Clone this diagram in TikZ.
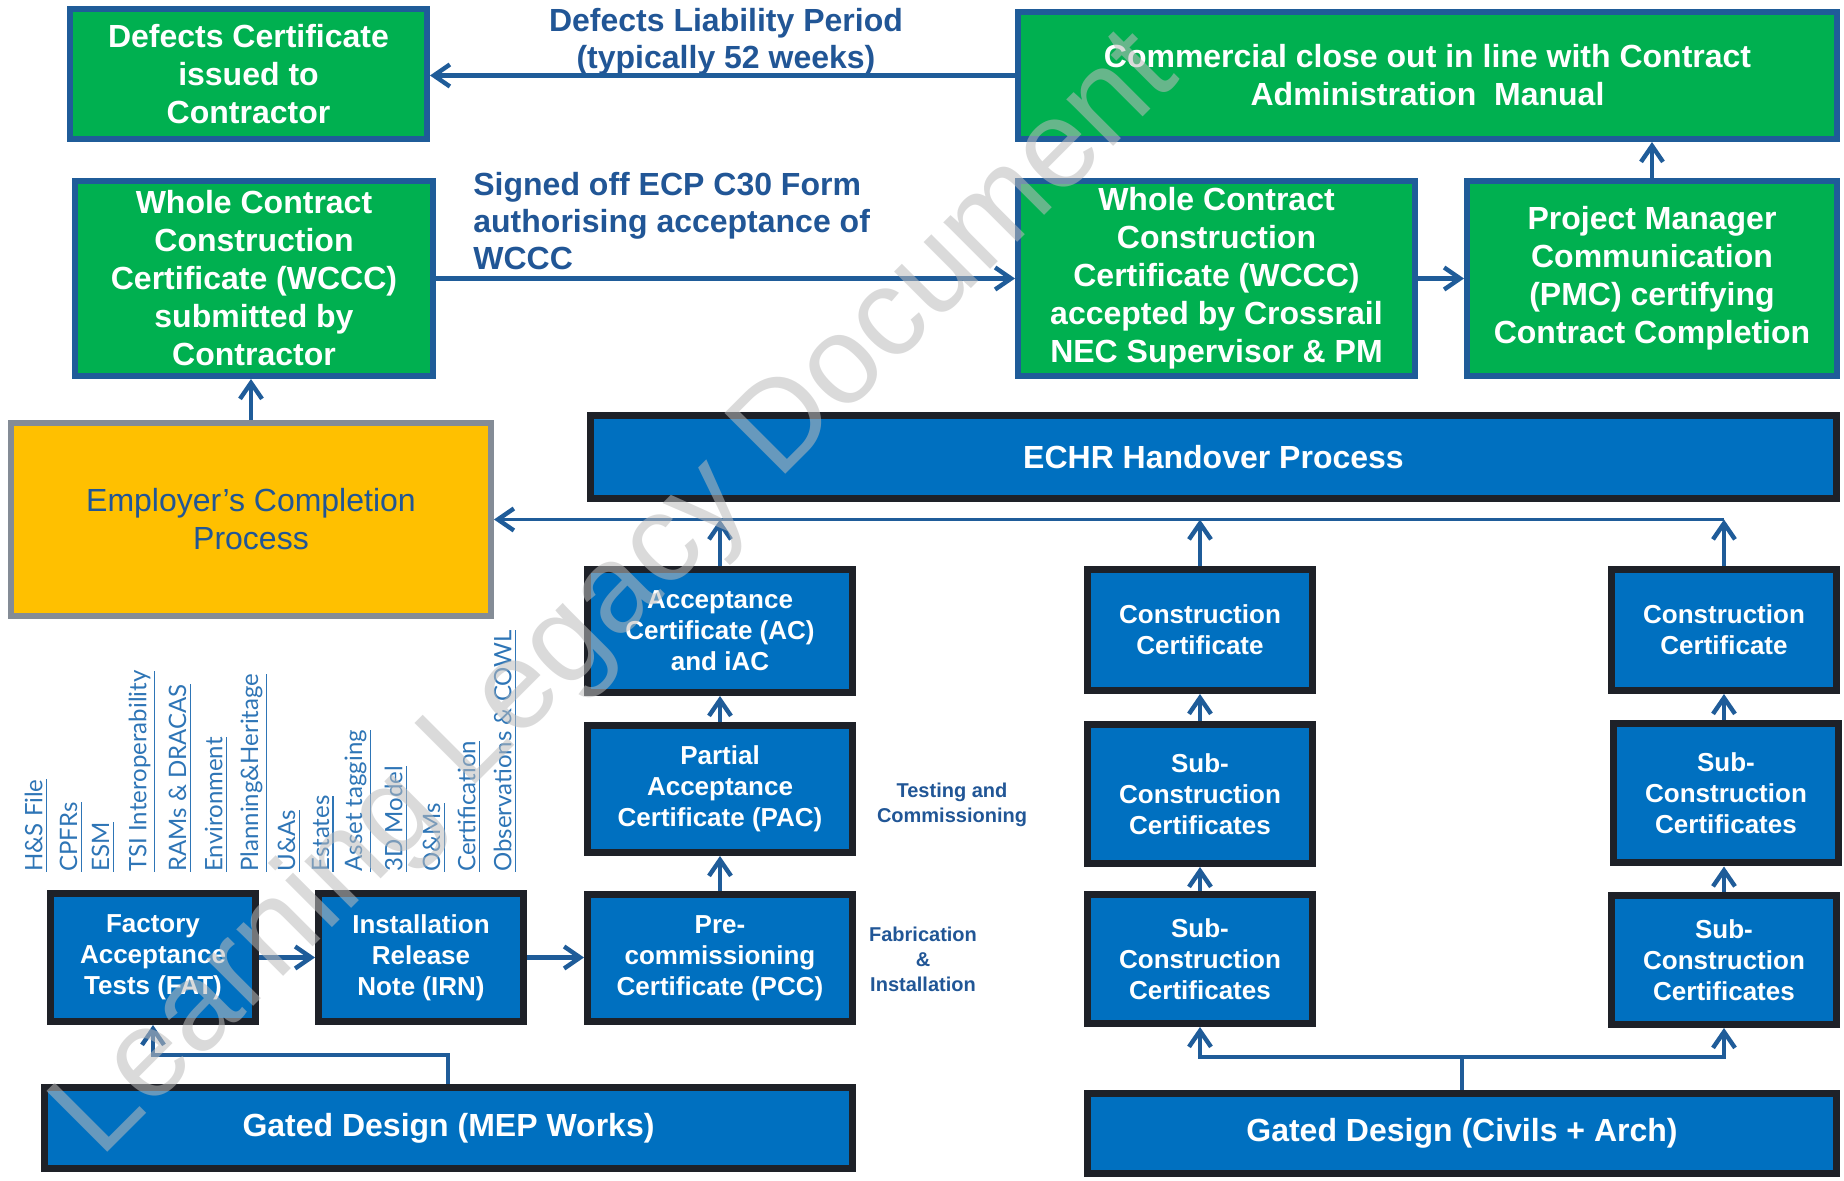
\documentclass[tikz,border=0pt]{standalone}
\usepackage{fontspec}
\setmainfont{Liberation Sans}
\newfontfamily\latofont{Lato}
\usetikzlibrary{arrows.meta}
\definecolor{gfill}{RGB}{0,176,80}
\definecolor{lblue}{RGB}{31,92,153}
\definecolor{tblue}{RGB}{33,86,150}
\definecolor{bfill}{RGB}{0,112,192}
\definecolor{bline}{RGB}{30,33,40}
\definecolor{yfill}{RGB}{255,192,0}
\definecolor{ygray}{RGB}{132,140,150}
\definecolor{linkblue}{RGB}{46,117,182}
\definecolor{wmark}{RGB}{188,188,188}
\newcommand\myul[1]{\leavevmode\vtop{\hbox{#1}\kern1.6pt\hrule height 0.8pt}}
\begin{document}
\begin{tikzpicture}[x=0.5pt,y=-0.5pt,
 gbox/.style={draw=lblue,line width=3pt,fill=gfill,text=white,font=\bfseries\fontsize{16}{19}\selectfont,align=center,inner sep=0pt},
 bbox/.style={draw=bline,line width=3.5pt,fill=bfill,text=white,font=\bfseries\fontsize{13}{15.5}\selectfont,align=center,inner sep=0pt},
 bigtext/.style={font=\bfseries\fontsize{16}{19}\selectfont},
 conn/.style={draw=lblue,line width=2.2pt,-{Straight Barb[length=8pt,width=11pt]}},
 thinconn/.style={draw=lblue,line width=1.5pt,-{Straight Barb[length=8pt,width=11pt,line width=2.2pt]}},
 lbl/.style={text=tblue,font=\bfseries\fontsize{16}{18.5}\selectfont,inner sep=0pt},
 slbl/.style={text=tblue,font=\bfseries\fontsize{10}{12.5}\selectfont,inner sep=0pt,align=center},
 vlab/.style={text=linkblue,font=\latofont\fontsize{12}{14}\selectfont,inner sep=0pt,rotate=90,anchor=west},
 wm/.style={text=wmark,text opacity=0.55,font=\fontsize{62.5}{62.5}\selectfont,inner sep=0pt}
]
\useasboundingbox (0,0) rectangle (1844,1181);

% green boxes
\node[gbox,minimum width=178.5pt,minimum height=65pt] (defc) at (248.5,74) {Defects Certificate\\issued to\\Contractor};
\node[gbox,minimum width=409.5pt,minimum height=63.5pt] (comm) at (1427.5,75.5) {Commercial close out in line with Contract\\Administration\ \ Manual};
\node[gbox,minimum width=179pt,minimum height=97.5pt] (wsub) at (254,278.5) {Whole Contract\\Construction\\Certificate (WCCC)\\submitted by\\Contractor};
\node[gbox,minimum width=198.5pt,minimum height=97.5pt] (wacc) at (1216.5,278.5) {Whole Contract\\Construction\\Certificate (WCCC)\\accepted by Crossrail\\NEC Supervisor \& PM};
\node[gbox,minimum width=185pt,minimum height=97.5pt] (pmc) at (1652,278.5) {Project Manager\\Communication\\(PMC) certifying\\Contract Completion};

% employer
\node[draw=ygray,line width=3pt,fill=yfill,text=tblue,font=\fontsize{16}{19}\selectfont,align=center,inner sep=0pt,minimum width=240pt,minimum height=96.5pt] (emp) at (251,519.5) {Employer’s Completion\\Process};

% blue boxes
\node[bbox,bigtext,minimum width=623pt,minimum height=41.5pt] (echr) at (1213.5,457) {ECHR Handover Process};
\node[bbox,minimum width=132.5pt,minimum height=61.5pt] (ac) at (720,631) {Acceptance\\Certificate (AC)\\and iAC};
\node[bbox,minimum width=132.5pt,minimum height=63.5pt] (pac) at (720,789) {Partial\\Acceptance\\Certificate (PAC)};
\node[bbox,minimum width=132.5pt,minimum height=63.5pt] (pcc) at (720,958) {Pre-\\commissioning\\Certificate (PCC)};
\node[bbox,minimum width=102.5pt,minimum height=64pt] (fat) at (153,957.5) {Factory\\Acceptance\\Tests (FAT)};
\node[bbox,minimum width=102.5pt,minimum height=64pt] (irn) at (421,957.5) {Installation\\Release\\Note (IRN)};
\node[bbox,bigtext,minimum width=404pt,minimum height=40.5pt] (mep) at (448.5,1128) {Gated Design (MEP Works)};
\node[bbox,minimum width=112.5pt,minimum height=60.5pt] (cc1) at (1200,630) {Construction\\Certificate};
\node[bbox,minimum width=112.5pt,minimum height=69.5pt] (scA1) at (1200,794) {Sub-\\Construction\\Certificates};
\node[bbox,minimum width=112.5pt,minimum height=64.5pt] (scA2) at (1200,959) {Sub-\\Construction\\Certificates};
\node[bbox,minimum width=112.5pt,minimum height=60.5pt] (cc2) at (1724,630) {Construction\\Certificate};
\node[bbox,minimum width=112.5pt,minimum height=69.5pt] (scB1) at (1726,793.5) {Sub-\\Construction\\Certificates};
\node[bbox,minimum width=112.5pt,minimum height=64.5pt] (scB2) at (1724,960) {Sub-\\Construction\\Certificates};
\node[bbox,bigtext,minimum width=374.5pt,minimum height=40pt] (civ) at (1462,1133) {Gated Design (Civils + Arch)};

% labels
\node[lbl,align=center] (dlp) at (726,42) {Defects Liability Period\\(typically 52 weeks)};
\node[lbl,align=left,anchor=west] (sig) at (473,221) {Signed off ECP C30 Form\\authorising acceptance of\\WCCC};
\node[slbl] (tc) at (952,805) {Testing and\\Commissioning};
\node[slbl] (fi) at (923,959) {Fabrication\\\&\\Installation};

% vertical labels
\node[vlab] (v1) at (36,872) {\myul{H\&S File}};
\node[vlab] (v2) at (71,872) {\myul{CPFRs}};
\node[vlab] (v3) at (103,872) {\myul{ESM}};
\node[vlab] (v4) at (142,872) {\myul{TSI Interoperability}};
\node[vlab] (v5) at (180,872) {\myul{RAMs \& DRACAS}};
\node[vlab] (v6) at (216,872) {\myul{Environment}};
\node[vlab] (v7) at (254,872) {\myul{Planning\&Heritage}};
\node[vlab] (v8) at (289,872) {\myul{U\&As}};
\node[vlab] (v9) at (323,872) {\myul{Estates}};
\node[vlab] (v10) at (358,872) {\myul{Asset tagging}};
\node[vlab] (v11) at (396,872) {\myul{3D Model}};
\node[vlab] (v12) at (434,872) {\myul{O\&Ms}};
\node[vlab] (v13) at (469,872) {\myul{Certification}};
\node[vlab] (v14) at (505,872) {\myul{Observations \& COWL}};

% connectors
\draw[conn] (comm.west) -- (comm.west -| defc.east);
\draw[conn] (wsub.east) -- (wsub.east -| wacc.west);
\draw[conn] (wacc.east) -- (pmc.west);
\draw[conn] (pmc.north) -- (pmc.north |- comm.south);
\draw[conn] (emp.north) -- (emp.north |- wsub.south);
\draw[conn] (fat.east) -- (irn.west);
\draw[conn] (irn.east) -- (irn.east -| pcc.west);
\draw[conn] (pcc.north) -- (pac.south);
\draw[conn] (pac.north) -- (ac.south);
\coordinate (busR) at (cc2.north |- emp.east);
\draw[thinconn] (busR) -- (emp.east);
\draw[conn] (ac.north) -- (ac.north |- emp.east);
\draw[conn] (cc1.north) -- (cc1.north |- emp.east);
\draw[conn] (cc2.north) -- (busR);
\draw[conn] (scA1.north) -- (cc1.south);
\draw[conn] (scA2.north) -- (scA1.south);
\draw[conn] (scB1.north -| cc2.south) -- (cc2.south);
\draw[conn] (scB2.north) -- (scB2.north |- scB1.south);
\coordinate (cj) at (1462,1057);
\draw[conn] (civ.north -| cj) -- (cj) -| (scA2.south);
\draw[conn] (cj) -| (scB2.south);
\coordinate (mj) at (448,1055);
\draw[conn] (mep.north -| mj) -- (mj) -| (fat.south);

% watermark
\node[wm,rotate=45,anchor=base west] (wmk) at (100,1160) {Learning Legacy Document};
\end{tikzpicture}
\end{document}
